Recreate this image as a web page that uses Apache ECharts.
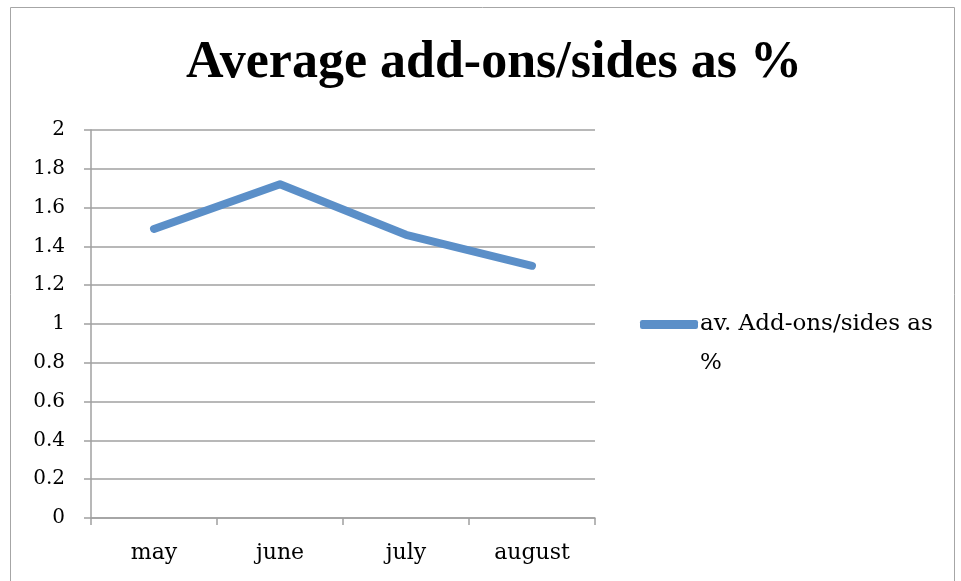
<!DOCTYPE html>
<html>
<head>
<meta charset="utf-8">
<script src="https://cdn.jsdelivr.net/npm/echarts@6/dist/echarts.min.js"></script>
<style>
  html, body { margin: 0; padding: 0; background: #fff; }
  #chart { width: 961px; height: 581px; }
</style>
</head>
<body>
<div id="chart"></div>
<script>
// Monthly averages of add-ons/sides, as a percentage
const months = ['may', 'june', 'july', 'august'];
const avgAddOns = [1.49, 1.72, 1.46, 1.30];
const seriesName = 'av. Add-ons/sides as %';
const titleText = 'Average add-ons/sides as %';

const serif = '"DejaVu Serif", "Liberation Serif", serif';
const titleFont = '"Liberation Serif", "DejaVu Serif", serif';
const gridColor = '#a0a0a0';
const lineColor = '#5b8fc8';

const chart = echarts.init(document.getElementById('chart'));
chart.setOption({
  animation: false,
  backgroundColor: '#fff',
  graphic: [{
    type: 'rect',
    shape: { x: 10.5, y: 7.5, width: 944, height: 600 },
    style: { fill: 'none', stroke: '#a6a6a6', lineWidth: 1 },
    silent: true
  }, {
    // second line of the wrapped legend label
    type: 'text',
    left: 700,
    top: 352,
    style: { text: '%', fontFamily: serif, fontSize: 23, fill: '#000' },
    silent: true
  }],
  title: {
    text: titleText,
    left: 489,
    textAlign: 'center',
    top: 33,
    textStyle: { fontFamily: titleFont, fontWeight: 'bold', fontSize: 52, color: '#000' }
  },
  legend: {
    data: [seriesName],
    left: 640,
    top: 313,
    padding: 0,
    itemWidth: 58,
    itemHeight: 9,
    itemGap: 0,
    icon: 'roundRect',
    formatter: function () { return 'av. Add-ons/sides as'; },
    textStyle: { fontFamily: serif, fontSize: 23, color: '#000', padding: [26, 0, 0, -3] }
  },
  grid: { left: 91, top: 130, width: 504, height: 388, containLabel: false },
  xAxis: {
    type: 'category',
    data: months,
    boundaryGap: true,
    axisLine: { lineStyle: { color: gridColor, width: 1.5 } },
    axisTick: { show: true, length: 7, lineStyle: { color: gridColor, width: 1.5 } },
    axisLabel: { fontFamily: serif, fontSize: 22, color: '#000', margin: 24 }
  },
  yAxis: {
    type: 'value',
    min: 0,
    max: 2,
    interval: 0.2,
    axisLine: { show: true, lineStyle: { color: gridColor, width: 1.5 } },
    axisTick: { show: true, length: 7, lineStyle: { color: gridColor, width: 1.5 } },
    axisLabel: {
      fontFamily: serif, fontSize: 20, color: '#000', margin: 26,
      formatter: function (v) { return String(Math.round(v * 10) / 10); }
    },
    splitLine: { lineStyle: { color: gridColor, width: 1.5 } }
  },
  series: [{
    name: seriesName,
    type: 'line',
    data: avgAddOns,
    symbol: 'none',
    lineStyle: { color: lineColor, width: 8, cap: 'round', join: 'round' },
    itemStyle: { color: lineColor }
  }]
});
</script>
</body>
</html>
